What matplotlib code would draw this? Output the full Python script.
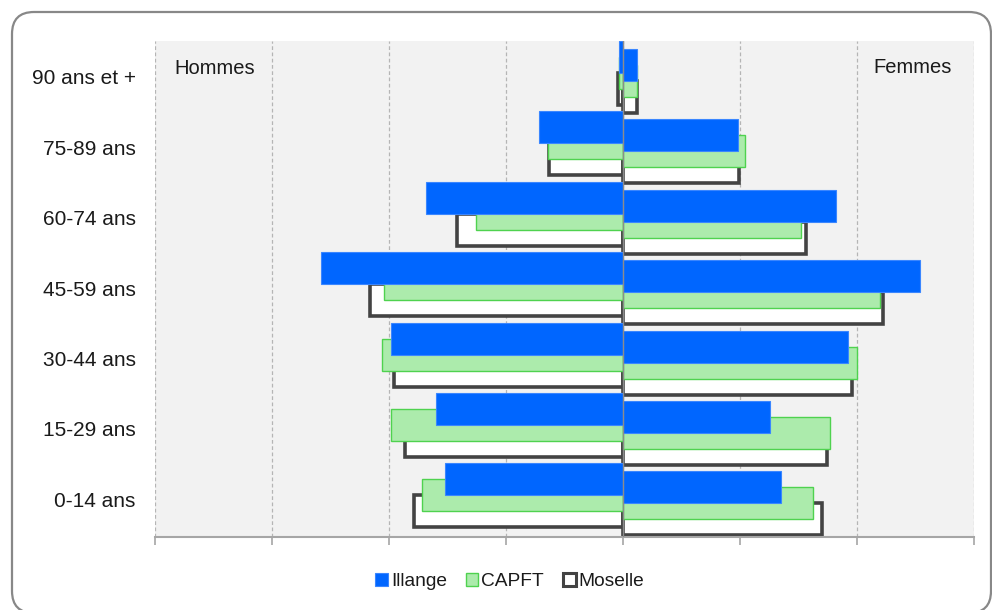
import numpy as np
import matplotlib.pyplot as plt
from matplotlib.patches import Patch, FancyBboxPatch

plt.rcParams['font.family'] = ['Liberation Sans', 'DejaVu Sans']

# age groups, top to bottom
ages = ['90 ans et +', '75-89 ans', '60-74 ans', '45-59 ans', '30-44 ans', '15-29 ans', '0-14 ans']

# share of total population (%), men and women
illange_h = [0.17, 3.6, 8.4, 12.9, 9.9, 8.0, 7.6]
illange_f = [0.6, 4.9, 9.1, 12.7, 9.6, 6.3, 6.75]
capft_h = [0.16, 3.2, 6.3, 10.2, 10.3, 9.9, 8.6]
capft_f = [0.6, 5.2, 7.6, 11.0, 10.0, 8.85, 8.1]
moselle_h = [0.2, 3.15, 7.1, 10.8, 9.8, 9.3, 8.95]
moselle_f = [0.6, 4.95, 7.8, 11.1, 9.8, 8.7, 8.5]

styles = {
    'Illange': dict(facecolor='#0066ff', edgecolor='#3a86ff', linewidth=0.8, zorder=4),
    'CAPFT': dict(facecolor='#acebac', edgecolor='#4fd24f', linewidth=1.0, zorder=3),
    'Moselle': dict(facecolor='white', edgecolor='#434343', linewidth=2.6, zorder=2),
}

fig = plt.figure(figsize=(9.92, 6.10), dpi=100)
ax = fig.add_axes([155 / 992, 1 - 537 / 610, 819 / 992, 496 / 610])
ax.set_facecolor('#f2f2f2')

y = np.arange(len(ages))
h = 0.4545
step = 0.1136
series = [('Illange', illange_h, illange_f), ('CAPFT', capft_h, capft_f),
          ('Moselle', moselle_h, moselle_f)]
for i, (name, men, women) in enumerate(series):
    off_h = (-2.5 + 2 * i) * step
    off_f = (-1.5 + 2 * i) * step
    ax.barh(y + off_h, -np.array(men), height=h, **styles[name])
    ax.barh(y + off_f, women, height=h, **styles[name])

ax.set_xlim(-20, 15)
ax.set_ylim(6.535, -0.511)
ax.set_xticks(np.arange(-20, 16, 5))
ax.set_xticklabels([])
ax.set_yticks(y)
ax.set_yticklabels(ages, fontsize=15, color='#1a1a1a')
ax.tick_params(axis='y', length=0, pad=14)
ax.tick_params(axis='x', length=6, width=1.2, color='#a6a6a6', direction='out')
ax.grid(axis='x', linestyle=(0, (3, 2)), color='#b5b5b5', linewidth=0.9)
ax.set_axisbelow(True)
for s in ['top', 'right', 'left']:
    ax.spines[s].set_visible(False)
ax.spines['bottom'].set_color('#a6a6a6')
ax.spines['bottom'].set_linewidth(1.5)
ax.axvline(0, color='#8c8c8c', linewidth=1.0, zorder=6)

ax.text(0.024, 0.945, 'Hommes', transform=ax.transAxes, fontsize=14.5,
        color='#1a1a1a', ha='left', va='center')
ax.text(0.973, 0.947, 'Femmes', transform=ax.transAxes, fontsize=14.5,
        color='#1a1a1a', ha='right', va='center')

handles = [Patch(label=n, **{k: v for k, v in styles[n].items() if k != 'zorder'})
           for n in ['Illange', 'CAPFT', 'Moselle']]
handles[2].set_linewidth(2.2)
fig.legend(handles=handles, loc='center', bbox_to_anchor=(0.514, 0.047), ncol=3,
           frameon=False, fontsize=13.8, handlelength=0.65, handleheight=0.7,
           handletextpad=0.15, columnspacing=1.0, labelcolor='#1a1a1a')

# rounded outer frame
frame = FancyBboxPatch((0.12, -0.03), 9.79, 6.01,
                       boxstyle='round,pad=0,rounding_size=0.22',
                       transform=fig.dpi_scale_trans, facecolor='none',
                       edgecolor='#888888', linewidth=1.6, clip_on=False)
fig.patches.append(frame)

fig.savefig('out.png', dpi=100)
